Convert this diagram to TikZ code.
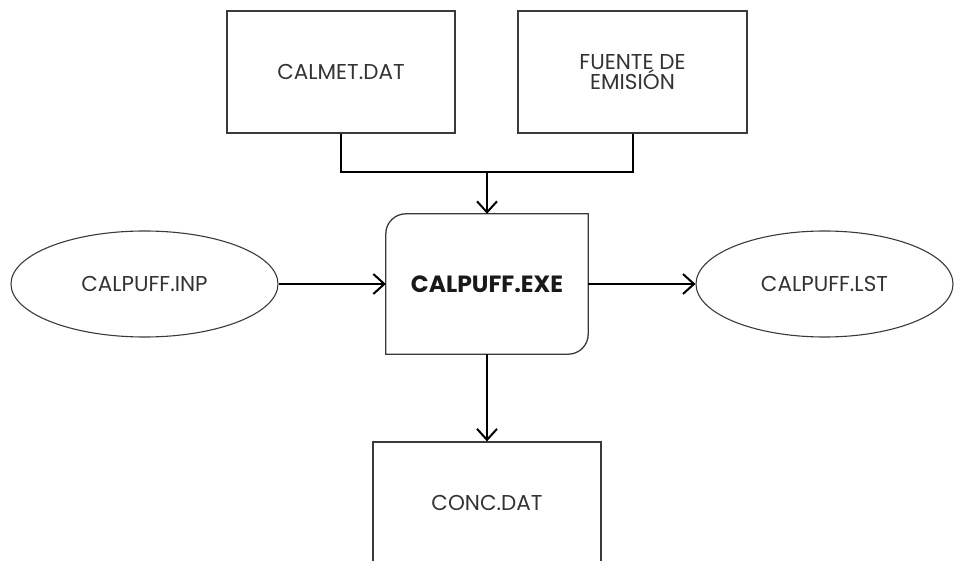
\documentclass[tikz,border=0pt]{standalone}
\usepackage{fontspec}
\setmainfont{Poppins}
\usetikzlibrary{arrows.meta,shapes.geometric}
\definecolor{txt}{HTML}{333333}
\definecolor{edge}{HTML}{3A3A3A}
\tikzset{
  boxnode/.style={draw=edge,line width=1.3pt,minimum width=228pt,minimum height=122pt,inner sep=0pt,
    font=\fontsize{21.5}{20.5}\selectfont,text=txt,align=center},
  ellnode/.style={ellipse,draw=edge,line width=1.1pt,inner sep=0pt,minimum height=106pt,
    font=\fontsize{21.5}{20.5}\selectfont,text=txt},
  conn/.style={line width=2pt,black},
  arr/.style={conn,-{Straight Barb[length=11pt,width=20pt,line width=2pt]}}
}
\begin{document}
\begin{tikzpicture}[x=1pt,y=-1pt]
\useasboundingbox (0,0) rectangle (954,561);
\clip (0,0) rectangle (954,561);
\node[boxnode] (calmet) at (341,72) {CALMET.DAT};
\node[boxnode,minimum width=229pt] (fuente) at (632.5,72) {FUENTE DE\\EMISIÓN};
\node[minimum width=202pt,minimum height=140pt,inner sep=0pt,font=\fontsize{23.5}{23.5}\selectfont\bfseries,text=black!90] (exe) at (487,284) {CALPUFF.EXE};
\draw[edge,line width=1.3pt] (exe.north east) -- ([yshift=20pt]exe.south east) arc[start angle=0,end angle=90,radius=20] -- (exe.south west) -- ([yshift=-20pt]exe.north west) arc[start angle=180,end angle=270,radius=20] -- cycle;
\node[ellnode,minimum width=267pt] (inp) at (144.5,284) {CALPUFF.INP};
\node[ellnode,minimum width=257pt] (lst) at (824.5,284) {CALPUFF.LST};
\node[boxnode] (conc) at (487,503) {CONC.DAT};
\coordinate (m) at (487,172);
\draw[conn] (calmet.south) |- (m) -| (fuente.south);
\draw[arr] (m) -- (exe.north);
\draw[arr] (inp.east) -- (exe.west);
\draw[arr] (exe.east) -- (lst.west);
\draw[arr] (exe.south) -- (conc.north);
\end{tikzpicture}
\end{document}
